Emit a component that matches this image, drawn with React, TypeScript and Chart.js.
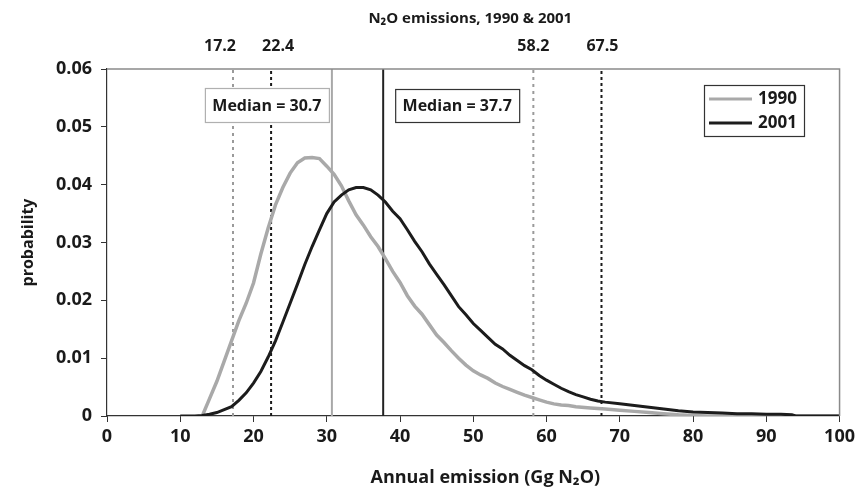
import React, { useEffect, useRef } from 'react';
import { Chart, registerables } from 'chart.js';

Chart.register(...registerables);

// ---- data ----
const seriesLabels = ['1990', '2001'];

const emission1990 = [13, 14, 15, 16, 17, 18, 19, 20, 21, 22, 23, 24, 25, 26, 27, 28, 29, 30, 31, 32, 33, 34, 35, 36, 37, 38, 39, 40, 41, 42, 43, 44, 45, 46, 47, 48, 49, 50, 51, 52, 53, 54, 55, 56, 57, 58, 59, 60, 61, 62, 63, 64, 66, 68, 70, 72, 74, 76, 78, 80, 82, 100];
const prob1990 = [0, 0.003, 0.006, 0.0095, 0.013, 0.0165, 0.0195, 0.023, 0.028, 0.0325, 0.0365, 0.0395, 0.042, 0.0438, 0.0446, 0.0447, 0.0445, 0.0432, 0.0418, 0.0398, 0.0372, 0.0348, 0.033, 0.031, 0.0293, 0.0272, 0.025, 0.0231, 0.0208, 0.019, 0.0176, 0.0158, 0.014, 0.0127, 0.0113, 0.01, 0.0088, 0.0078, 0.0071, 0.0065, 0.0057, 0.0051, 0.0046, 0.0041, 0.0036, 0.0032, 0.0028, 0.0024, 0.0021, 0.0019, 0.0018, 0.0016, 0.0014, 0.0012, 0.001, 0.0008, 0.0006, 0.0004, 0.0002, 0.0001, 0, 0];

const emission2001 = [10, 12, 13, 14, 15, 16, 17, 18, 19, 20, 21, 22, 23, 24, 25, 26, 27, 28, 29, 30, 31, 32, 33, 34, 35, 36, 37, 38, 39, 40, 41, 42, 43, 44, 45, 46, 47, 48, 49, 50, 51, 52, 53, 54, 55, 56, 57, 58, 59, 60, 61, 62, 63, 64, 65, 66, 67, 68, 70, 72, 74, 76, 78, 80, 82, 84, 86, 88, 90, 92, 93.5, 94, 100];
const prob2001 = [0, 0, 0.0001, 0.0003, 0.0006, 0.0011, 0.0016, 0.0027, 0.004, 0.0057, 0.0077, 0.0102, 0.013, 0.0162, 0.0195, 0.0228, 0.0262, 0.0293, 0.0322, 0.035, 0.037, 0.0382, 0.0391, 0.0395, 0.0395, 0.0391, 0.0382, 0.037, 0.0354, 0.0341, 0.0322, 0.0302, 0.0284, 0.0263, 0.0245, 0.0227, 0.0208, 0.0189, 0.0175, 0.016, 0.0148, 0.0136, 0.0124, 0.0116, 0.0105, 0.0096, 0.0087, 0.008, 0.007, 0.0062, 0.0055, 0.0048, 0.0042, 0.0037, 0.0033, 0.0029, 0.0026, 0.0024, 0.0021, 0.0018, 0.0015, 0.0012, 0.0009, 0.0007, 0.0006, 0.0005, 0.0004, 0.0004, 0.0003, 0.0003, 0.0002, 0, 0];

const bounds1990 = [17.2, 58.2];
const bounds2001 = [22.4, 67.5];
const medians = [30.7, 37.7];

const xTicks = [0, 10, 20, 30, 40, 50, 60, 70, 80, 90, 100];
const yTicks = [0, 0.01, 0.02, 0.03, 0.04, 0.05, 0.06];

const titleText = 'N\u2082O emissions, 1990 & 2001';
const xTitle = 'Annual emission (Gg N\u2082O)';
const yTitle = 'probability';

// ---- styles ----
const FONT = '"Open Sans", "DejaVu Sans", sans-serif';
const GRAY = '#a9a9a9';
const BLACK = '#1c1c1c';
const TEXT = '#1a1a1a';

const toPoints = (xs: number[], ys: number[]) => xs.map((x, i) => ({ x, y: ys[i] }));
const vLine = (v: number) => [{ x: v, y: yTicks[0] }, { x: v, y: yTicks[yTicks.length - 1] }];

const decoPlugin = {
  id: 'deco',
  afterDraw(chart: any) {
    const { ctx, chartArea } = chart;
    const { left, right, top, bottom } = chartArea;
    const xs = chart.scales.x;
    ctx.save();
    // plot frame top/right
    ctx.strokeStyle = '#8a8a8a';
    ctx.lineWidth = 1.5;
    ctx.beginPath();
    ctx.moveTo(left, top);
    ctx.lineTo(right, top);
    ctx.lineTo(right, bottom);
    ctx.stroke();

    // chart title
    ctx.fillStyle = TEXT;
    ctx.font = `bold 15px ${FONT}`;
    ctx.textAlign = 'center';
    ctx.textBaseline = 'middle';
    ctx.fillText(titleText, (left + right) / 2 - 3, 19);

    // x axis title
    ctx.font = `bold 18px ${FONT}`;
    ctx.fillText(xTitle, (left + right) / 2 + 12, 478);

    // percentile labels above plot
    const labels = [bounds1990[0], bounds2001[0], bounds1990[1], bounds2001[1]];
    const offs = [-13, 7, 0, 1];
    ctx.font = `bold 16px ${FONT}`;
    labels.forEach((v, i) => {
      ctx.fillText(String(v), xs.getPixelForValue(v) + offs[i], 46);
    });

    // median boxes
    const drawBox = (x0: number, y0: number, w: number, h: number, border: string, text: string) => {
      ctx.fillStyle = '#ffffff';
      ctx.fillRect(x0, y0, w, h);
      ctx.strokeStyle = border;
      ctx.lineWidth = 1.2;
      ctx.strokeRect(x0 + 0.5, y0 + 0.5, w, h);
      ctx.fillStyle = TEXT;
      ctx.font = `bold 16px ${FONT}`;
      ctx.textAlign = 'center';
      ctx.textBaseline = 'middle';
      ctx.fillText(text, x0 + w / 2, y0 + h / 2 + 1);
    };
    const m1 = xs.getPixelForValue(medians[0]);
    const m2 = xs.getPixelForValue(medians[1]);
    drawBox(m1 - 127, 88, 124, 34, '#b0b0b0', `Median = ${medians[0]}`);
    drawBox(m2 + 12, 89, 124, 33, '#333333', `Median = ${medians[1]}`);

    // legend
    ctx.strokeStyle = '#333333';
    ctx.lineWidth = 1.2;
    ctx.strokeRect(704.5, 85.5, 100, 51);
    const items = [
      { label: seriesLabels[0], color: GRAY, y: 99 },
      { label: seriesLabels[1], color: BLACK, y: 123 },
    ];
    items.forEach((it) => {
      ctx.strokeStyle = it.color;
      ctx.lineWidth = 3;
      ctx.beginPath();
      ctx.moveTo(709, it.y);
      ctx.lineTo(752, it.y);
      ctx.stroke();
      ctx.fillStyle = TEXT;
      ctx.font = `bold 17px ${FONT}`;
      ctx.textAlign = 'left';
      ctx.textBaseline = 'middle';
      ctx.fillText(it.label, 758, it.y);
    });
    ctx.restore();
  },
};

export default function App() {
  const ref = useRef<HTMLCanvasElement | null>(null);

  useEffect(() => {
    if (!ref.current) return;
    const chart = new Chart(ref.current, {
      type: 'line',
      data: {
        datasets: [
          { label: seriesLabels[1], data: toPoints(emission2001, prob2001), borderColor: BLACK, borderWidth: 3, pointRadius: 0, order: 0 },
          { label: seriesLabels[0], data: toPoints(emission1990, prob1990), borderColor: GRAY, borderWidth: 3.5, pointRadius: 0, order: 1 },
          { label: 'median1990', data: vLine(medians[0]), borderColor: '#a8a8a8', borderWidth: 2, pointRadius: 0, order: 2 },
          { label: 'median2001', data: vLine(medians[1]), borderColor: '#222222', borderWidth: 2, pointRadius: 0, order: 2 },
          { label: 'lo1990', data: vLine(bounds1990[0]), borderColor: '#9a9a9a', borderWidth: 2, borderDash: [3, 4], pointRadius: 0, order: 3 },
          { label: 'hi1990', data: vLine(bounds1990[1]), borderColor: '#9a9a9a', borderWidth: 2, borderDash: [3, 4], pointRadius: 0, order: 3 },
          { label: 'lo2001', data: vLine(bounds2001[0]), borderColor: '#1a1a1a', borderWidth: 2, borderDash: [3, 3], pointRadius: 0, order: 3 },
          { label: 'hi2001', data: vLine(bounds2001[1]), borderColor: '#1a1a1a', borderWidth: 2, borderDash: [3, 3], pointRadius: 0, order: 3 },
        ],
      },
      options: {
        animation: false,
        responsive: true,
        maintainAspectRatio: false,
        layout: { padding: { top: 69, right: 16, left: 0, bottom: 0 } },
        plugins: { legend: { display: false }, tooltip: { enabled: false }, title: { display: false } },
        elements: { line: { tension: 0 } },
        scales: {
          x: {
            type: 'linear',
            position: 'bottom',
            min: 0,
            max: 100,
            afterBuildTicks: (s: any) => { s.ticks = xTicks.map((v) => ({ value: v })); },
            afterFit: (s: any) => { s.height = 74; },
            grid: { drawOnChartArea: false, drawTicks: true, tickLength: 6, tickColor: '#333', tickWidth: 1 },
            border: { color: '#333', width: 1.2 },
            ticks: { font: { family: FONT, size: 18, weight: 'bold' }, color: TEXT, padding: 4, maxRotation: 0, autoSkip: false },
            title: { display: false },
          },
          y: {
            type: 'linear',
            min: 0,
            max: 0.06,
            afterBuildTicks: (s: any) => { s.ticks = yTicks.map((v) => ({ value: v })); },
            afterFit: (s: any) => { s.width = 107; },
            grid: { drawOnChartArea: false, drawTicks: true, tickLength: 6, tickColor: '#333', tickWidth: 1 },
            border: { color: '#333', width: 1.2 },
            ticks: {
              font: { family: FONT, size: 18, weight: 'bold' },
              color: TEXT,
              padding: 9,
              callback: (v: any) => (Number(v) === 0 ? '0' : Number(v).toFixed(2)),
            },
            title: { display: true, text: yTitle, font: { family: FONT, size: 16, weight: 'bold' }, color: TEXT, padding: { top: 19, bottom: 0 } },
          },
        },
      },
      plugins: [decoPlugin],
    } as any);
    return () => chart.destroy();
  }, []);

  return (
    <div style={{ position: 'absolute', left: 0, top: 0, width: 859, height: 490, background: '#fff' }}>
      <canvas ref={ref} />
    </div>
  );
}
